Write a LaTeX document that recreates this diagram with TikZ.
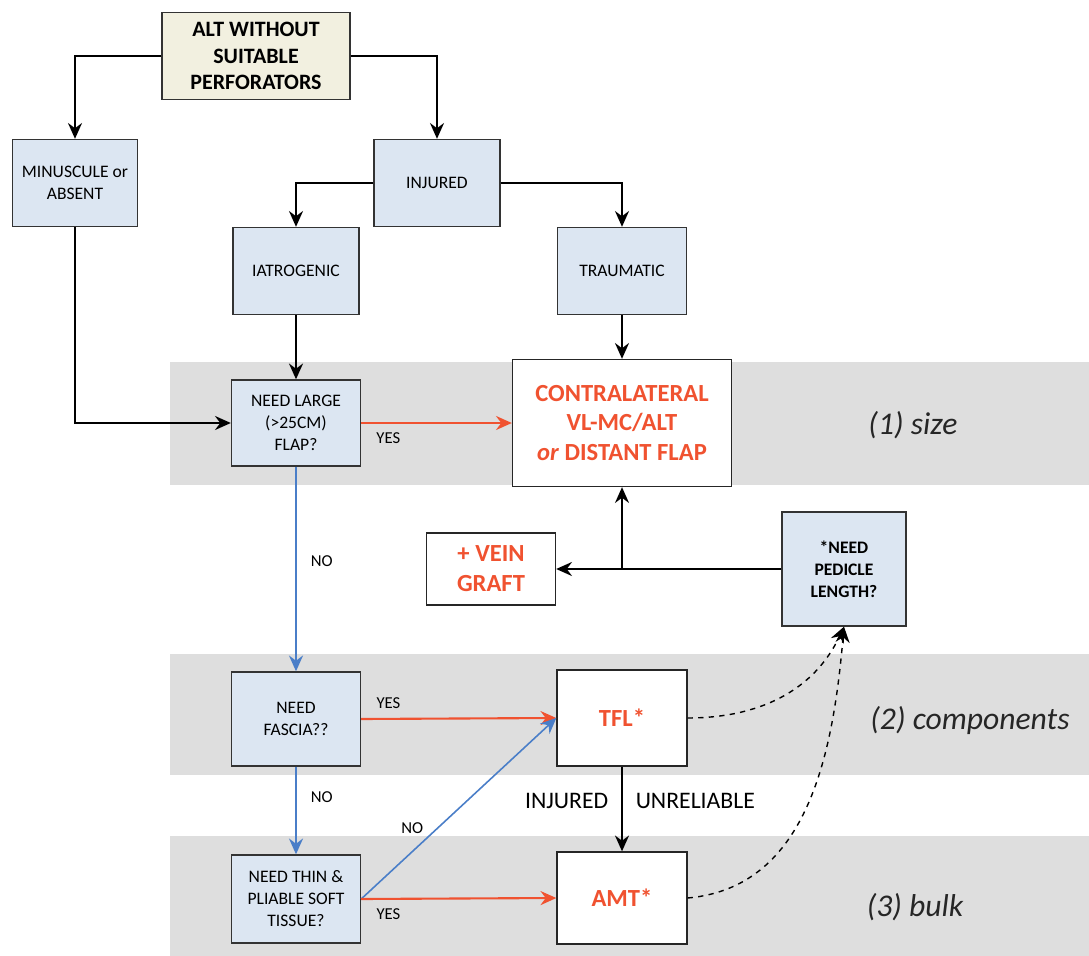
\documentclass[tikz,border=0pt]{standalone}
\usepackage{fontspec}
\setmainfont{Carlito}
\usetikzlibrary{arrows.meta,positioning,calc}

\definecolor{qblue}{RGB}{220,230,242}
\definecolor{qtan}{RGB}{242,240,224}
\definecolor{bandgray}{RGB}{222,222,222}
\definecolor{flapred}{RGB}{240,82,48}
\definecolor{noblue}{RGB}{74,126,200}

\begin{document}
\begin{tikzpicture}[
            x=0.02cm, y=-0.02cm,
            font=\fontsize{10}{12.5}\selectfont,
            q/.style={draw=black!80, line width=0.8pt, fill=qblue,
            inner sep=2pt, align=center, minimum width=2.58cm, minimum height=1.74cm},
            res/.style={draw=black!85, line width=0.8pt, fill=white,
            inner sep=2pt, align=center, text=flapred,
            font=\fontsize{14}{17}\selectfont\bfseries},
            band/.style={fill=bandgray, draw=none},
            tier/.style={font=\fontsize{18}{20}\selectfont\itshape, text=black!85},
            lbl/.style={font=\fontsize{9.5}{11}\selectfont, inner sep=2pt},
            ar/.style={-{Stealth[length=9pt,width=8pt,inset=3pt]}, line width=1pt},
            yes/.style={ar, draw=flapred, line width=1.2pt},
            no/.style={ar, draw=noblue, line width=0.9pt},
            dep/.style={ar, dashed, line width=0.8pt}
        ]
\useasboundingbox (0,0) rectangle (1089,956);
\fill[white] (0,0) rectangle (1089,956);

% decision tiers
            \fill[band] (170,362) rectangle (1089,485);
            \fill[band] (170,654) rectangle (1089,775);
            \fill[band] (170,836) rectangle (1089,956);
            \node[tier] (tsize) at (913,425) {(1) size};
            \node[tier] (tcomp) at (970,720) {(2) components};
            \node[tier] (tbulk) at (915,907) {(3) bulk};

% upper tree
            \node[q, fill=qtan, minimum width=3.76cm, font=\fontsize{12.5}{15}\selectfont\bfseries]
                (alt) at (256,56) {ALT WITHOUT\\SUITABLE\\PERFORATORS};
            \node[q, minimum width=2.5cm]  (minus)   at (75,183)  {MINUSCULE or\\ABSENT};
            \node[q, minimum width=2.52cm] (injured) at (437,183) {INJURED};
            \node[q, minimum width=2.52cm] (iatro)   at (296,271) {IATROGENIC};
            \node[q]                       (trauma)  at (622,271) {TRAUMATIC};

% questions
            \node[q, minimum height=1.72cm] (large)  at (296,423) {NEED LARGE\\(>25CM)\\FLAP?};
            \node[q, minimum height=1.88cm] (fascia) at (296,719) {NEED\\FASCIA??};
            \node[q, minimum height=1.76cm] (thin)   at (296,899) {NEED THIN \&\\PLIABLE SOFT\\TISSUE?};
            \node[q, minimum width=2.48cm, minimum height=2.28cm, font=\fontsize{10}{12.5}\selectfont\bfseries]
                (pedicle) at (844,569) {*NEED\\PEDICLE\\LENGTH?};

% flap choices
            \node[res, minimum width=4.38cm, minimum height=2.54cm] (contra) at (622,423)
                {CONTRALATERAL\\VL-MC/ALT\\\textit{or} DISTANT FLAP};
            \node[res, minimum width=2.58cm, minimum height=1.44cm] (vein) at (491,569) {+ VEIN\\GRAFT};
            \node[res, minimum width=2.6cm, minimum height=1.92cm]  (tfl)  at (622,718) {TFL*};
            \node[res, minimum width=2.6cm, minimum height=1.84cm]  (amt)  at (622,898) {AMT*};

            \draw[ar] (alt.west) -| (minus.north);
            \draw[ar] (alt.east) -| (injured.north);
            \draw[ar] (injured.west) -| (iatro.north);
            \draw[ar] (injured.east) -| (trauma.north);
            \draw[ar] (iatro) -- (large);
            \draw[ar] (trauma) -- (contra);
            \draw[ar] (minus.south) |- (large.west);

            \draw[yes] (large.east) -- node[lbl, pos=0.18, below=3pt] (y1) {YES} (contra.west);
            \draw[no] (large.south) -- node[lbl, pos=0.46, right=6pt] (n1) {NO} (fascia.north);
            \draw[yes] (fascia.east) -- node[lbl, pos=0.14, above=3pt] (y2) {YES} (tfl.west);
            \draw[no] (fascia.south) -- node[lbl, pos=0.35, right=6pt] (n2) {NO} (thin.north);
            \draw[no] (thin.east) -- node[lbl, pos=0.34, anchor=south east] (n3) {NO} (tfl.west);
            \draw[yes] (thin.east) -- node[lbl, pos=0.14, below=3pt] (y3) {YES} (amt.west);

            \draw[ar] (tfl.south) -- node[pos=0.4, left=4pt, font=\fontsize{13.5}{15}\selectfont] (inj) {INJURED}
                node[pos=0.4, right=4pt, font=\fontsize{13.5}{15}\selectfont] (unrel) {UNRELIABLE} (amt.north);

% pedicle length
            \coordinate (junc) at (contra.south |- pedicle.west);
            \draw[ar] (pedicle.west) -- (vein.east);
            \draw[ar] (junc) -- (contra.south);
            \draw[dep] (tfl.east) to[out=0, in=-115] (pedicle.south);
            \draw[dep] (amt.east) to[out=5, in=-95] (pedicle.south);
\end{tikzpicture}
\end{document}
